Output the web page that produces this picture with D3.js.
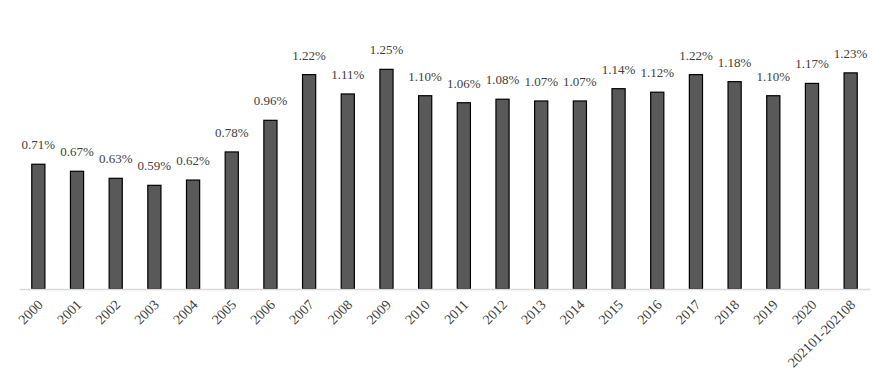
<!DOCTYPE html>
<html>
<head>
<meta charset="utf-8">
<script src="https://cdn.jsdelivr.net/npm/d3@7"></script>
<style>
  body { margin: 0; background: #fff; }
  svg text { font-family: "Times New Roman", "Liberation Serif", serif; fill: #404040; }
</style>
</head>
<body>
<svg id="chart"></svg>
<script>
const width = 888;
const height = 390;

// years and share values (%)
const categories = ["2000", "2001", "2002", "2003", "2004", "2005", "2006", "2007", "2008", "2009",
  "2010", "2011", "2012", "2013", "2014", "2015", "2016", "2017", "2018", "2019", "2020", "202101-202108"];
const values = [0.71, 0.67, 0.63, 0.59, 0.62, 0.78, 0.96, 1.22, 1.11, 1.25,
  1.10, 1.06, 1.08, 1.07, 1.07, 1.14, 1.12, 1.22, 1.18, 1.10, 1.17, 1.23];
const yMax = 1.4;

const margin = {left: 19, right: 18, top: 43, bottom: 101};

const svg = d3.select("#chart")
    .attr("width", width)
    .attr("height", height);

const x = d3.scaleBand()
    .domain(categories)
    .range([margin.left, width - margin.right])
    .paddingInner(0.66)
    .paddingOuter(0.33);

const y = d3.scaleLinear()
    .domain([0, yMax])
    .range([height - margin.bottom, margin.top]);

// bars
svg.append("g")
  .selectAll("rect")
  .data(values)
  .join("rect")
    .attr("x", (d, i) => x(categories[i]))
    .attr("y", d => y(d))
    .attr("width", x.bandwidth())
    .attr("height", d => y(0) - y(d))
    .attr("fill", "#595959")
    .attr("stroke", "#000")
    .attr("stroke-width", 1.2);

// value labels
svg.append("g")
  .selectAll("text")
  .data(values)
  .join("text")
    .attr("x", (d, i) => x(categories[i]) + x.bandwidth() / 2)
    .attr("y", d => y(d) - 15)
    .attr("text-anchor", "middle")
    .style("font-size", "13px")
    .text(d => d.toFixed(2) + "%");

// x axis
const xAxis = svg.append("g")
    .attr("transform", `translate(0,${y(0)})`)
    .call(d3.axisBottom(x).tickSize(0).tickPadding(6));

xAxis.attr("font-family", null).attr("font-size", null);
xAxis.select(".domain").attr("stroke", "#d9d9d9").attr("stroke-width", 1.5);
xAxis.selectAll("text")
    .style("font-size", "14px")
    .attr("fill", "#404040")
    .attr("text-anchor", "end")
    .attr("x", 0)
    .attr("y", 0)
    .attr("dy", "0.35em")
    .attr("transform", "translate(2,13) rotate(-45)");
</script>
</body>
</html>
